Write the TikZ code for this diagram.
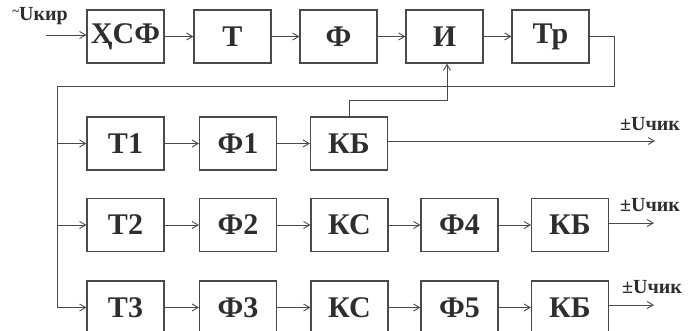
\documentclass[tikz,border=0pt]{standalone}
\usepackage{fontspec}
\setmainfont{Liberation Serif}
\usetikzlibrary{arrows.meta}
\definecolor{ink}{HTML}{4A4A4A}
\definecolor{txt}{HTML}{2E2E2E}
\tikzset{
  blk/.style={draw=ink, line width=1.1pt, minimum width=77pt, minimum height=53pt, inner sep=0pt,
    font=\fontsize{30}{32}\selectfont\bfseries, text=txt},
  wire/.style={draw=ink, line width=0.9pt},
  arr/.style={wire, -{Straight Barb[length=6pt,width=7pt]}},
  lbl/.style={font=\fontsize{20}{22}\selectfont\bfseries, text=txt, inner sep=0pt}
}
\begin{document}
\begin{tikzpicture}[x=1pt,y=-1pt]
\useasboundingbox (0,0) rectangle (689,331);
% row 1
\node[blk] (hsf) at (125.5,36.5) {ҲСФ};
\node[blk] (t)   at (232.5,36.5) {Т};
\node[blk] (f)   at (338.5,36.5) {Ф};
\node[blk] (i)   at (444.5,36.5) {И};
\node[blk] (tr)  at (550.5,36.5) {Тр};
% row 2
\node[blk] (t1)  at (125.5,143.5) {Т1};
\node[blk] (f1)  at (238,143.5) {Ф1};
\node[blk] (kb1) at (349,143.5) {КБ};
% row 3
\node[blk] (t2)  at (125.5,225) {Т2};
\node[blk] (f2)  at (238,225) {Ф2};
\node[blk] (ks2) at (349.5,225) {КС};
\node[blk] (f4)  at (459.5,225) {Ф4};
\node[blk] (kb2) at (570,225) {КБ};
% row 4
\node[blk] (t3)  at (125.5,307.5) {Т3};
\node[blk] (f3)  at (238,307.5) {Ф3};
\node[blk] (ks3) at (349.5,307.5) {КС};
\node[blk] (f5)  at (459.5,307.5) {Ф5};
\node[blk] (kb3) at (570,307.5) {КБ};
% coordinates
\coordinate (in) at (46,35);
\coordinate (fbr) at (614,86);
\coordinate (fbl) at (57,86);
\coordinate (bus) at (57,307.5);
\coordinate (j) at (447,100);
\coordinate (o1) at (655,141);
\coordinate (o2) at (654,223);
\coordinate (o3) at (654,305);
% labels
\node[lbl] (lin) at (40,16) {\raisebox{5pt}{\fontsize{13}{13}\selectfont\textasciitilde}Uкир};
\node[lbl] (lo1) at (650,124) {±Uчик};
\node[lbl] (lo2) at (650,205) {±Uчик};
\node[lbl] (lo3) at (652,287) {±Uчик};
% connectors row 1
\draw[arr] (in) -- (hsf.west |- in);
\draw[arr] (hsf.east) -- (t.west);
\draw[arr] (t.east) -- (f.west);
\draw[arr] (f.east) -- (i.west);
\draw[arr] (i.east) -- (tr.west);
% feedback
\draw[wire] (tr.east) -| (fbr) -- (fbl) -- (bus);
\draw[arr] (bus) -- (t3.west);
\draw[arr] (fbl |- t1.west) -- (t1.west);
\draw[arr] (fbl |- t2.west) -- (t2.west);
\draw[arr] (kb1.north) |- (j) -- (j |- i.south);
% row 2
\draw[arr] (t1) -- (f1);
\draw[arr] (f1) -- (kb1);
\draw[arr] (kb1.east |- o1) -- (o1);
% row 3
\draw[arr] (t2) -- (f2);
\draw[arr] (f2) -- (ks2);
\draw[arr] (ks2) -- (f4);
\draw[arr] (f4) -- (kb2);
\draw[arr] (kb2.east |- o2) -- (o2);
% row 4
\draw[arr] (t3) -- (f3);
\draw[arr] (f3) -- (ks3);
\draw[arr] (ks3) -- (f5);
\draw[arr] (f5) -- (kb3);
\draw[arr] (kb3.east |- o3) -- (o3);
\end{tikzpicture}
\end{document}
